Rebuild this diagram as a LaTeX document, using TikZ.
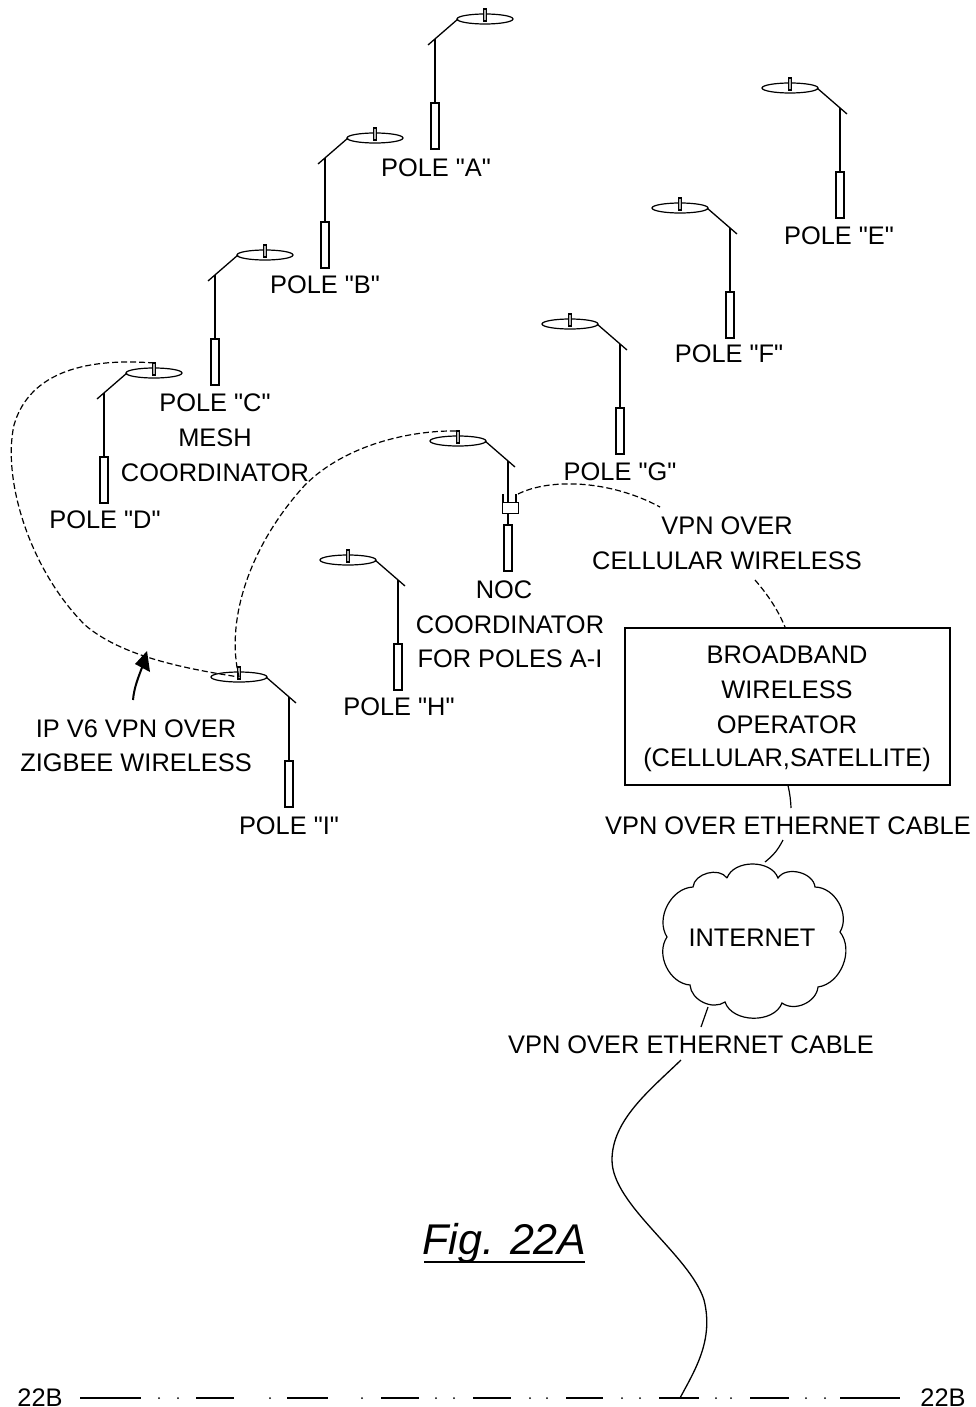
\documentclass[tikz,border=0pt]{standalone}
\usepackage{fontspec}
\setmainfont[Ligatures=TeXOff]{Liberation Sans}
\begin{document}
\begin{tikzpicture}[x=1pt,y=-1pt,line width=1.2pt,
  lbl/.style={inner sep=0pt,font=\fontsize{25.4}{25.4}\selectfont},
  link/.style={dash pattern=on 6pt off 3pt,line width=1.2pt},
  wire/.style={line width=1.3pt},
  cutline/.style={line width=1.6pt},
  rodbox/.style={line width=1.1pt,fill=white}]
\clip (0,0) rectangle (976,1407);
\fill[white] (0,0) rectangle (976,1407);
% \lamp{name}{x}{y}{side}
\newcommand{\lamp}[4]{
  \begin{scope}[shift={(#2,#3)},xscale=#4]
    \draw[wire] (0,0) -- (0,-64);
    \draw[wire] (-7,-58) -- (23,-84);
    \draw[line width=1.2pt] (50,-84) ellipse [x radius=28,y radius=5];
    \draw[rodbox] (-4,0) rectangle (4,46);
    \draw[rodbox,fill=gray!60] (48.5,-94) rectangle (51.5,-82);
    \coordinate (#1-stub) at (50,-94);
    \coordinate (#1-lamp) at (50,-84);
  \end{scope}}
\lamp{A}{435}{103}{1}
\lamp{B}{325}{222}{1}
\lamp{C}{215}{339}{1}
\lamp{D}{104}{457}{1}
\lamp{E}{840}{172}{-1}
\lamp{F}{730}{292}{-1}
\lamp{G}{620}{408}{-1}
\lamp{H}{398}{644}{-1}
\lamp{I}{289}{761}{-1}
\lamp{N}{508}{525}{-1}
% NOC device
\node[draw,fill=white,line width=1pt,minimum width=16pt,minimum height=11pt,inner sep=0pt] (dev) at (510,507.5) {};
\draw[line width=1.4pt] (503,502) -- (503,494) (516,502) -- (516,494);
\coordinate (devout) at (518,494);
% labels
\node[lbl] (lA) at (436,168) {POLE "A"};
\node[lbl] (lB) at (325,285) {POLE "B"};
\node[lbl] (lC) at (215,403) {POLE "C"};
\node[lbl] (lM) at (215,438) {MESH};
\node[lbl] (lCo) at (215,473) {COORDINATOR};
\node[lbl] (lD) at (105,520) {POLE "D"};
\node[lbl] (lE) at (839,236) {POLE "E"};
\node[lbl] (lF) at (729,354) {POLE "F"};
\node[lbl] (lG) at (620,472) {POLE "G"};
\node[lbl] (lH) at (399,707) {POLE "H"};
\node[lbl] (lI) at (289,826) {POLE "I"};
\node[lbl] (lN) at (504,590) {NOC};
\node[lbl] (lN2) at (510,625) {COORDINATOR};
\node[lbl] (lN3) at (510,659) {FOR POLES A-I};
\node[lbl] (lV1) at (727,526) {VPN OVER};
\node[lbl] (lV2) at (727,561) {CELLULAR WIRELESS};
\node[lbl] (lZ1) at (136,729) {IP V6 VPN OVER};
\node[lbl] (lZ2) at (136,763) {ZIGBEE WIRELESS};
\node[lbl] (lE1) at (788,826) {VPN OVER ETHERNET CABLE};
\node[lbl] (lE2) at (691,1045) {VPN OVER ETHERNET CABLE};
% box
\node[draw,line width=1.2pt,minimum width=325pt,minimum height=157pt,inner sep=0pt] (box) at (787.5,706.5) {};
\node[lbl] at (787,655) {BROADBAND};
\node[lbl] at (787,690) {WIRELESS};
\node[lbl] at (787,725) {OPERATOR};
\node[lbl] at (787,760) {(CELLULAR,SATELLITE)};
% cloud
\coordinate (c1) at (727,878);
\coordinate (c2) at (778,878);
\coordinate (c3) at (815,887);
\coordinate (c4) at (840,932);
\coordinate (c5) at (818,987);
\coordinate (c6) at (782,1003);
\coordinate (c7) at (725,1002);
\coordinate (c8) at (690,985);
\coordinate (c9) at (667,937);
\coordinate (c10) at (693,887);
\draw[line width=1.2pt] (c1) to[bend left=70] (c2) to[bend left=70] (c3) to[bend left=60] (c4)
  to[bend left=60] (c5) to[bend left=60] (c6) to[bend left=70] (c7) to[bend left=60] (c8)
  to[bend left=60] (c9) to[bend left=60] (c10) to[bend left=70] (c1);
\node[lbl] (inet) at (752,938) {INTERNET};
% dashed links
\draw[link] (D-stub) .. controls (90,358) and (30,370) .. (14,425)
  .. controls (2,480) and (30,570) .. (85,625)
  .. controls (120,655) and (180,668) .. (I-lamp);
\draw[link] (I-lamp) .. controls (225,620) and (250,545) .. (305,485)
  .. controls (345,445) and (410,430) .. (N-stub);
\draw[link] (devout) .. controls (550,478) and (610,480) .. (660,507);
\draw[link] (755,580) .. controls (768,595) and (778,610) .. (785,627);
% cables
\coordinate (boxtail) at (791,808);
\coordinate (cloudin) at (783,840);
\coordinate (cloudout) at (701,1027);
\coordinate (cabletop) at (681,1060);
\coordinate (cablefoot) at (680,1398);
\draw[line width=1.2pt] (box.south -| 788,786) to[bend left=5] (boxtail);
\draw[line width=1.2pt] (cloudin) to[bend left=12] (765,862);
\draw[line width=1.2pt] (708,1007) -- (cloudout);
\draw[line width=1.3pt] (cabletop) .. controls (650,1090) and (612,1120) .. (612,1160)
  .. controls (612,1205) and (690,1255) .. (704,1300)
  .. controls (714,1340) and (695,1370) .. (cablefoot);
% zigbee arrow
\coordinate (arrtail) at (133,700);
\coordinate (arrtip) at (147,651);
\draw[line width=2pt] (arrtail) .. controls (134,688) and (138,678) .. (143,665);
\fill (arrtip) -- (150,672) -- (135,664) -- cycle;
% figure caption
\node[inner sep=0pt,font=\fontsize{43}{43}\selectfont\itshape] (fig) at (504.5,1243) {Fig. 22A};
\draw[line width=2pt] (424,1262) -- (585,1262);
% section line
\node[lbl,anchor=base] (s1) at (40,1406) {22B};
\node[lbl,anchor=base] (s2) at (943,1406) {22B};
\draw[cutline] (80,1398) -- (141,1398) (196,1398) -- (234,1398) (287,1398) -- (328,1398)
  (381,1398) -- (419,1398) (473,1398) -- (511,1398) (566,1398) -- (603,1398)
  (659,1398) -- (699,1398) (750,1398) -- (789,1398) (840,1398) -- (900,1398);
\foreach \d in {159,178,270,362,436,454,530,547,622,640,716,731,806,825}
  \fill (\d,1398) circle (1pt);
\end{tikzpicture}
\end{document}
